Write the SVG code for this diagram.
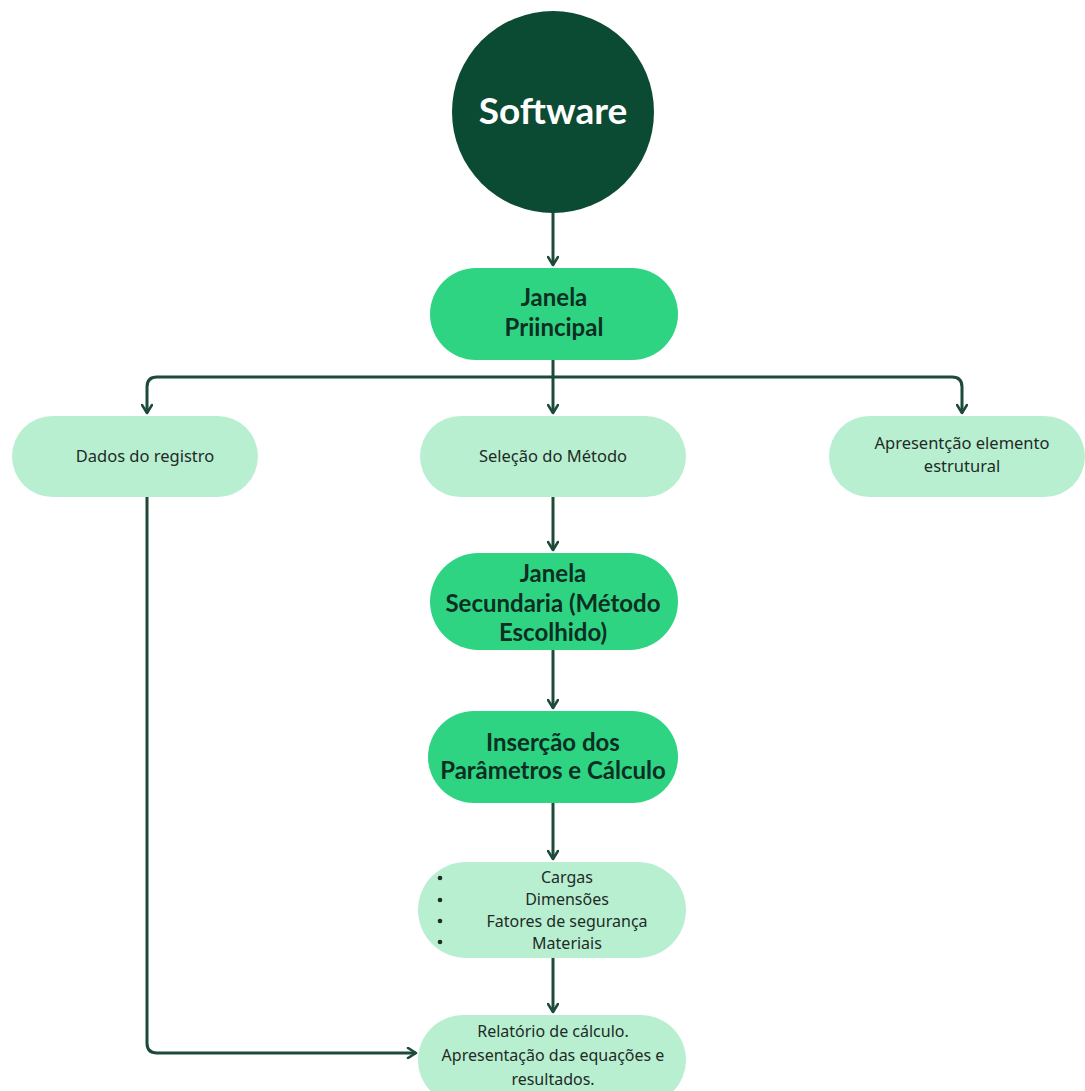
<svg xmlns="http://www.w3.org/2000/svg" width="1085" height="1091" viewBox="0 0 1085 1091">
<defs>
<marker id="arr" viewBox="0 0 12 12" refX="10" refY="6" markerWidth="12" markerHeight="12" markerUnits="userSpaceOnUse" orient="auto">
<path d="M2,1 L10,6 L2,11" fill="none" stroke="#1d4a39" stroke-width="2.6" stroke-linecap="round" stroke-linejoin="round"/>
</marker>
<style>
.bg{fill:#ffffff}
.dark{fill:#0b4a33}
.main{fill:#2ed482}
.light{fill:#b9efd1}
.conn{fill:none;stroke:#1d4a39;stroke-width:3;marker-end:url(#arr)}
.h{font-family:Lato,"Liberation Sans",sans-serif;font-weight:700;font-size:24px;fill:#0d2e22;text-anchor:middle}
.t{font-family:"Noto Sans","Open Sans","Liberation Sans",sans-serif;font-size:16.5px;fill:#1e2b26;text-anchor:middle}
.l{font-family:"Noto Sans","Open Sans","Liberation Sans",sans-serif;font-size:16px;fill:#1e2b26;text-anchor:middle}
</style>
</defs>
<rect class="bg" x="0" y="0" width="1085" height="1091"/>

<g id="connectors">
<path class="conn" d="M553,212 L553,265"/>
<path class="conn" d="M553,360 L553,413"/>
<path class="conn" d="M553,377 L157,377 Q147,377 147,387 L147,413"/>
<path class="conn" d="M553,377 L952,377 Q962,377 962,387 L962,413"/>
<path class="conn" d="M553,497 L553,550"/>
<path class="conn" d="M553,650 L553,708"/>
<path class="conn" d="M553,803 L553,859"/>
<path class="conn" d="M553,958 L553,1012"/>
<path class="conn" d="M147,497 L147,1043 Q147,1053 157,1053 L416,1053"/>
</g>

<g id="software">
<circle class="dark" cx="553" cy="112" r="101"/>
<text x="553" y="124" style="font-family:Lato,'Liberation Sans',sans-serif;font-weight:700;font-size:37px;fill:#ffffff;text-anchor:middle">Software</text>
</g>

<g id="janela-principal">
<rect class="main" x="430" y="268" width="248" height="92" rx="46"/>
<text class="h" x="554" y="306">Janela</text>
<text class="h" x="554" y="336">Priincipal</text>
</g>

<g id="dados-registro">
<rect class="light" x="12" y="416" width="246" height="81" rx="40.5"/>
<text class="t" x="145" y="462">Dados do registro</text>
</g>

<g id="selecao-metodo">
<rect class="light" x="420" y="416" width="266" height="81" rx="40.5"/>
<text class="t" x="553" y="462">Seleção do Método</text>
</g>

<g id="apresentacao-elemento">
<rect class="light" x="829" y="416" width="256" height="81" rx="40.5"/>
<text class="t" x="962" y="449">Apresentção elemento</text>
<text class="t" x="962" y="472">estrutural</text>
</g>

<g id="janela-secundaria">
<rect class="main" x="430" y="553" width="248" height="97" rx="48.5"/>
<text class="h" x="553" y="582">Janela</text>
<text class="h" x="553" y="612">Secundaria (Método</text>
<text class="h" x="553" y="641">Escolhido)</text>
</g>

<g id="insercao-parametros">
<rect class="main" x="428" y="711" width="250" height="92" rx="46"/>
<text class="h" x="553" y="751">Inserção dos</text>
<text class="h" x="553" y="779">Parâmetros e Cálculo</text>
</g>

<g id="lista-parametros">
<rect class="light" x="418" y="862" width="268" height="96" rx="48"/>
<g fill="#1e2b26">
<circle cx="440" cy="878" r="2.3"/>
<circle cx="440" cy="900" r="2.3"/>
<circle cx="440" cy="921" r="2.3"/>
<circle cx="440" cy="942" r="2.3"/>
</g>
<text class="l" x="567" y="883">Cargas</text>
<text class="l" x="567" y="905">Dimensões</text>
<text class="l" x="567" y="927">Fatores de segurança</text>
<text class="l" x="567" y="949">Materiais</text>
</g>

<g id="relatorio">
<rect class="light" x="418" y="1015" width="268" height="90" rx="45"/>
<text class="l" x="553" y="1037">Relatório de cálculo.</text>
<text class="l" x="553" y="1061">Apresentação das equações e</text>
<text class="l" x="553" y="1085">resultados.</text>
</g>
</svg>
